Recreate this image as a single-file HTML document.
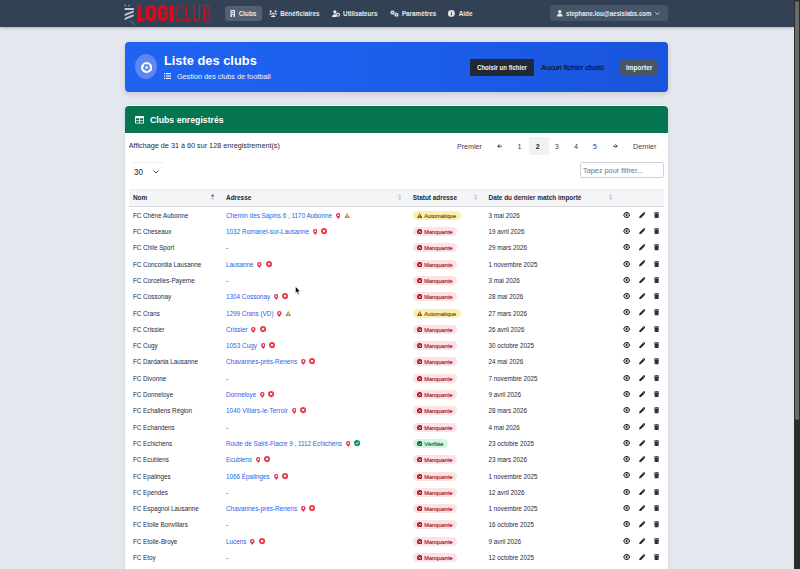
<!DOCTYPE html>
<html><head><meta charset="utf-8"><style>
html,body{margin:0;padding:0;width:800px;height:569px;overflow:hidden;background:#e4e7ee;font-family:"Liberation Sans", sans-serif;}
.b{position:absolute;display:block}
.t{position:absolute;white-space:nowrap;display:flex;align-items:center}
.t svg{flex:none}
.badge{position:absolute;display:flex;align-items:center;box-sizing:border-box;padding-left:4px;border-radius:4.4px;font-size:5.7px;white-space:nowrap;-webkit-text-stroke:0.15px currentColor}
</style></head><body>
<div class="b" style="left:0.00px;top:0.00px;width:794.00px;height:569.00px;background:#e4e7ee"></div>
<div class="b" style="left:0.00px;top:0.00px;width:794.00px;height:27.00px;background:#334155;box-shadow:0 1px 3px rgba(0,0,0,.25)"></div>
<svg class="b" style="left:122.00px;top:2.00px;" width="92.00" height="24.00" viewBox="122 2 92 24"><g fill="#c3cad5"><circle cx="125.2" cy="5.5" r="0.7"/><circle cx="128.9" cy="5.6" r="0.7"/><rect x="124.6" y="8" width="9.3" height="2"/><path d="M124.6 14 L133.6 10.6 L133.6 12.6 L124.6 16Z"/><path d="M124.6 18 L133.6 14.3 L133.6 16.3 L124.6 20Z"/></g><path d="M130.6 20.3 L134.8 25" stroke="#9aa3b0" stroke-width="0.5"/><g fill="#e1081c"><rect x="137.5" y="5" width="3.3" height="16.2"/><rect x="137.5" y="18.1" width="7" height="3.1"/><path fill-rule="evenodd" d="M150.9 5 A5.1 4.6 0 0 1 156 9.6 V16.6 A5.1 4.6 0 0 1 145.8 16.6 V9.6 A5.1 4.6 0 0 1 150.9 5Z M150.9 8.1 A1.8 1.8 0 0 0 149.1 9.9 V16.3 A1.8 1.8 0 0 0 152.7 16.3 V9.9 A1.8 1.8 0 0 0 150.9 8.1Z"/><rect x="169.8" y="5" width="3.7" height="16.2"/></g><path d="M166.4 10.6 V10.1 A3.5 3.5 0 0 0 159.4 10.1 V16.1 A3.5 3.5 0 0 0 166.4 16.1 V12.9 H163" fill="none" stroke="#e1081c" stroke-width="3.2"/><g fill="none" stroke="#d8101f" stroke-width="1.05"><path d="M182.3 8.8 V8.5 A3.15 3 0 0 0 176 8.5 V17.7 A3.15 3 0 0 0 182.3 17.7 V17.3"/><path d="M186.3 5 V20.7 H191"/><path d="M194 5 V17.6 A2.75 3.1 0 0 0 199.5 17.6 V5"/><path d="M204.5 20.7 V5.5 H207.1 Q209.6 5.5 209.6 9.1 Q209.6 12.8 207.1 12.8 H204.5 M207.1 12.8 Q209.9 12.8 209.9 16.8 Q209.9 20.7 207.1 20.7 H204.5"/></g></svg>
<div class="b" style="left:225.00px;top:6.00px;width:36.50px;height:14.80px;background:#536074;border-radius:3px"></div>
<svg class="b" style="left:230.00px;top:10.00px;" width="5.50" height="7.00" viewBox="0 0 5.5 7"><rect x="0.5" y="0" width="4.5" height="7" rx="0.6" fill="#e6e9ee"/><rect x="1.5" y="1.3" width="2.5" height="0.9" fill="#536074"/><rect x="1.5" y="3" width="2.5" height="0.9" fill="#536074"/><rect x="2" y="5" width="1.5" height="2" fill="#536074"/></svg>
<div class="t" style="left:238.80px;top:10.00px;font-size:6.30px;line-height:7.00px;font-weight:700;color:#e6e9ee;">Clubs</div>
<svg class="b" style="left:268.50px;top:9.60px;" width="8.60" height="7.40" viewBox="0 0 8.6 7.4"><g fill="#e6e9ee"><ellipse cx="1.7" cy="1.4" rx="1.05" ry="1.15"/><ellipse cx="6.6" cy="1.4" rx="1.05" ry="1.15"/><path d="M0.1 4.6 Q0.1 3.2 1.7 3.2 Q3.2 3.2 3.2 4.6Z"/><path d="M5.1 4.6 Q5.1 3.2 6.6 3.2 Q8.2 3.2 8.2 4.6Z"/><circle cx="4.15" cy="3.5" r="1.0"/><path d="M1.8 7.2 Q1.8 5.2 4.15 5.2 Q6.5 5.2 6.5 7.2Z"/></g></svg>
<div class="t" style="left:280.30px;top:10.00px;font-size:6.30px;line-height:7.00px;font-weight:700;color:#e6e9ee;">Bénéficiaires</div>
<svg class="b" style="left:331.50px;top:9.60px;" width="8.00" height="7.40" viewBox="0 0 8 7.4"><g fill="#e6e9ee"><circle cx="2.9" cy="2" r="1.65"/><path d="M0.1 7.1 Q0.1 4.3 2.9 4.3 Q4.2 4.3 4.9 4.9 L4.4 7.1Z"/></g><circle cx="6" cy="4.8" r="1.45" fill="none" stroke="#e6e9ee" stroke-width="1.1"/><circle cx="6" cy="4.8" r="0.45" fill="#334155"/></svg>
<div class="t" style="left:343.10px;top:10.00px;font-size:6.30px;line-height:7.00px;font-weight:700;color:#e6e9ee;">Utilisateurs</div>
<svg class="b" style="left:389.50px;top:9.60px;" width="9.00" height="7.40" viewBox="0 0 9 7.4"><g fill="#e6e9ee"><circle cx="2.5" cy="2.5" r="1.7"/><circle cx="6.4" cy="4.8" r="1.8"/></g><g fill="none" stroke="#e6e9ee" stroke-width="0.7" stroke-dasharray="0.8 0.7"><circle cx="2.5" cy="2.5" r="2.05"/><circle cx="6.4" cy="4.8" r="2.15"/></g><g fill="#334155"><circle cx="2.5" cy="2.5" r="0.6"/><circle cx="6.4" cy="4.8" r="0.65"/></g></svg>
<div class="t" style="left:401.90px;top:10.00px;font-size:6.30px;line-height:7.00px;font-weight:700;color:#e6e9ee;">Paramètres</div>
<svg class="b" style="left:448.40px;top:10.00px;" width="6.80" height="6.80" viewBox="0 0 6.8 6.8"><circle cx="3.4" cy="3.4" r="3.4" fill="#e6e9ee"/><rect x="2.95" y="2.9" width="0.95" height="2.5" fill="#334155"/><circle cx="3.42" cy="1.9" r="0.55" fill="#334155"/></svg>
<div class="t" style="left:458.80px;top:10.00px;font-size:6.30px;line-height:7.00px;font-weight:700;color:#e6e9ee;">Aide</div>
<div class="b" style="left:550.30px;top:5.30px;width:117.70px;height:15.70px;background:#475569;border-radius:3px"></div>
<svg class="b" style="left:557.00px;top:10.00px;" width="5.60" height="6.50" viewBox="0 0 5.6 6.5"><g fill="#e6e9ee"><circle cx="2.8" cy="1.7" r="1.7"/><path d="M0 6.5 Q0 3.6 2.8 3.6 Q5.6 3.6 5.6 6.5Z"/></g></svg>
<div class="t" style="left:566.00px;top:9.00px;font-size:7.60px;line-height:9.00px;font-weight:700;color:#e6e9ee;transform:scaleX(0.805);transform-origin:0 0;">stephane.lou@aesislabs.com</div>
<svg class="b" style="left:655.30px;top:12.20px;" width="4.80" height="3.00" viewBox="0 0 4.8 3"><path d="M0.4 0.4 L2.4 2.5 L4.4 0.4" fill="none" stroke="#e6e9ee" stroke-width="0.85"/></svg>
<div class="b" style="left:125.00px;top:42.00px;width:543.00px;height:50.00px;background:linear-gradient(90deg,#1f63f0 0%,#1c60ed 40%,#1a54dc 100%);border-radius:4px;box-shadow:0 2px 5px rgba(0,0,0,.13)"></div>
<div class="b" style="left:135.3px;top:54.2px;width:21.9px;height:25.2px;border-radius:50%;background:#5f86f2"></div>
<svg class="b" style="left:140.70px;top:61.50px;" width="11.30" height="11.00" viewBox="0 0 11.3 11"><ellipse cx="5.65" cy="5.5" rx="5.6" ry="5.45" fill="#fff"/><path d="M5.65 8.80 L2.56 6.55 L3.74 2.92 L7.56 2.92 L8.74 6.55Z" fill="#5f86f2" stroke="#5f86f2" stroke-width="1.1" stroke-linejoin="round"/><circle cx="5.65" cy="5.5" r="1.35" fill="#fff"/></svg>
<div class="t" style="left:163.90px;top:53.00px;font-size:12.87px;line-height:15.00px;font-weight:700;color:#ffffff;">Liste des clubs</div>
<svg class="b" style="left:164.00px;top:73.00px;" width="7.20" height="6.00" viewBox="0 0 7.2 6"><g fill="#fff"><rect x="0" y="0" width="1.2" height="1.1"/><rect x="2" y="0" width="5.2" height="1.1"/><rect x="0" y="2.4" width="1.2" height="1.1"/><rect x="2" y="2.4" width="5.2" height="1.1"/><rect x="0" y="4.8" width="1.2" height="1.1"/><rect x="2" y="4.8" width="5.2" height="1.1"/></g></svg>
<div class="t" style="left:176.90px;top:72.00px;font-size:7.30px;line-height:9.00px;font-weight:400;color:#f2f6ff;">Gestion des clubs de football</div>
<div class="b" style="left:470.00px;top:58.50px;width:63.80px;height:17.50px;background:#1f2937;border-radius:1px"></div>
<div class="t" style="left:476.90px;top:64.00px;font-size:6.80px;line-height:7.00px;font-weight:700;color:#f3f4f6;transform:scaleX(0.894);transform-origin:0 0;">Choisir un fichier</div>
<div class="t" style="left:541.30px;top:63.00px;font-size:7.25px;line-height:9.00px;font-weight:400;color:#050d24;-webkit-text-stroke:0.15px #050d24;">Aucun fichier choisi</div>
<div class="b" style="left:620.00px;top:59.80px;width:37.00px;height:15.00px;background:#4b5563;border-radius:2.5px"></div>
<div class="t" style="left:625.60px;top:64.00px;font-size:6.90px;line-height:7.00px;font-weight:700;color:#f3f4f6;transform:scaleX(0.940);transform-origin:0 0;">Importer</div>
<div class="b" style="left:125.00px;top:104.90px;width:543.00px;height:495.10px;background:#fff;border-radius:4px;box-shadow:0 1px 3px rgba(0,0,0,.12)"></div>
<div class="b" style="left:125.00px;top:105.70px;width:543.00px;height:27.00px;background:#057551;border-radius:4px 4px 0 0"></div>
<svg class="b" style="left:135.30px;top:116.00px;" width="9.20" height="7.60" viewBox="0 0 9.2 7.6"><rect x="0" y="0" width="9.2" height="7.6" rx="1.2" fill="#fff"/><g fill="#057551"><rect x="0.9" y="2.2" width="3.3" height="2" /><rect x="5" y="2.2" width="3.3" height="2"/><rect x="0.9" y="4.8" width="3.3" height="1.9"/><rect x="5" y="4.8" width="3.3" height="1.9"/></g></svg>
<div class="t" style="left:150.00px;top:115.00px;font-size:8.73px;line-height:10.00px;font-weight:700;color:#ffffff;">Clubs enregistrés</div>
<div class="t" style="left:128.80px;top:141.00px;font-size:7.24px;line-height:9.00px;font-weight:400;color:#1f2937;">Affichage de 31 à 60 sur 128 enregistrement(s)</div>
<div class="t" style="left:456.90px;top:143.00px;font-size:7.14px;line-height:8.00px;font-weight:400;color:#374151;">Premier</div>
<svg class="b" style="left:497.20px;top:144.00px;" width="5.30" height="4.40" viewBox="0 0 5.3 4.4"><path d="M5 2.2H0.8M2.6 0.4L0.8 2.2L2.6 4" fill="none" stroke="#374151" stroke-width="1"/></svg>
<div class="t" style="left:517.40px;top:143.00px;font-size:7.14px;line-height:8.00px;font-weight:400;color:#374151;">1</div>
<div class="b" style="left:528.50px;top:137.20px;width:20.50px;height:17.40px;background:#f1f2f4"></div>
<div class="t" style="left:535.70px;top:143.00px;font-size:7.14px;line-height:8.00px;font-weight:700;color:#111827;">2</div>
<div class="t" style="left:554.70px;top:143.00px;font-size:7.14px;line-height:8.00px;font-weight:400;color:#374151;">3</div>
<div class="t" style="left:573.90px;top:143.00px;font-size:7.14px;line-height:8.00px;font-weight:400;color:#374151;">4</div>
<div class="t" style="left:593.00px;top:143.00px;font-size:7.14px;line-height:8.00px;font-weight:400;color:#374151;">5</div>
<svg class="b" style="left:613.10px;top:144.00px;" width="5.30" height="4.40" viewBox="0 0 5.3 4.4"><path d="M0 2.2H4.2M2.4 0.4L4.2 2.2L2.4 4" fill="none" stroke="#374151" stroke-width="1"/></svg>
<div class="t" style="left:633.10px;top:143.00px;font-size:7.14px;line-height:8.00px;font-weight:400;color:#374151;">Dernier</div>
<div class="b" style="left:132.00px;top:162.00px;width:31.00px;height:23.00px;border-top:1px solid #eceef1"></div>
<div class="t" style="left:134.00px;top:168.00px;font-size:8.18px;line-height:9.00px;font-weight:400;color:#1f2937;">30</div>
<svg class="b" style="left:153.00px;top:170.00px;" width="6.00" height="3.60" viewBox="0 0 6 3.6"><path d="M0.6 0.6L3 3L5.4 0.6" fill="none" stroke="#2b3a52" stroke-width="0.95"/></svg>
<div class="b" style="left:580.00px;top:162.30px;width:83.50px;height:15.80px;border:1px solid #cfd3d9;border-radius:2px;box-sizing:border-box;background:#fff"></div>
<div class="t" style="left:583.10px;top:166.00px;font-size:7.29px;line-height:9.00px;font-weight:400;color:#6b7280;">Tapez pour filtrer...</div>
<div class="b" style="left:128.80px;top:188.50px;width:535.20px;height:18.70px;background:#f4f5f7;border-top:1px solid #eceef1;border-bottom:1px solid #d6d8dc;box-sizing:border-box"></div>
<div class="t" style="left:132.90px;top:194.00px;font-size:6.42px;line-height:7.00px;font-weight:700;color:#1f2937;">Nom</div>
<div class="t" style="left:226.00px;top:194.00px;font-size:6.42px;line-height:7.00px;font-weight:700;color:#1f2937;">Adresse</div>
<div class="t" style="left:412.80px;top:194.00px;font-size:6.42px;line-height:7.00px;font-weight:700;color:#1f2937;">Statut adresse</div>
<div class="t" style="left:488.50px;top:194.00px;font-size:6.42px;line-height:7.00px;font-weight:700;color:#1f2937;">Date du dernier match importé</div>
<svg class="b" style="left:211.20px;top:194.30px;" width="3.40" height="6.40" viewBox="0 0 3.4 6.4"><path d="M1.7 0 L3.4 2.6 L0 2.6Z" fill="#4b5563"/><path d="M1.7 6.4 L3.4 3.8 L0 3.8Z" fill="#c3c7cd"/></svg>
<svg class="b" style="left:398.20px;top:194.30px;" width="3.40" height="6.40" viewBox="0 0 3.4 6.4"><path d="M1.7 0 L3.4 2.6 L0 2.6Z" fill="#c3c7cd"/><path d="M1.7 6.4 L3.4 3.8 L0 3.8Z" fill="#c3c7cd"/></svg>
<svg class="b" style="left:474.20px;top:194.30px;" width="3.40" height="6.40" viewBox="0 0 3.4 6.4"><path d="M1.7 0 L3.4 2.6 L0 2.6Z" fill="#c3c7cd"/><path d="M1.7 6.4 L3.4 3.8 L0 3.8Z" fill="#c3c7cd"/></svg>
<svg class="b" style="left:608.50px;top:194.30px;" width="3.40" height="6.40" viewBox="0 0 3.4 6.4"><path d="M1.7 0 L3.4 2.6 L0 2.6Z" fill="#c3c7cd"/><path d="M1.7 6.4 L3.4 3.8 L0 3.8Z" fill="#c3c7cd"/></svg>
<div class="t" style="left:132.90px;top:212.00px;font-size:6.30px;line-height:7.00px;font-weight:400;color:#1f2937;">FC Chêne Aubonne</div>
<div class="t" style="left:226px;top:212px;font-size:6.38px;line-height:7px;color:#2563eb"><span style="letter-spacing:-0.017px">Chemin des Sapins 6 , 1170 Aubonne</span><svg width="4.6" height="6" viewBox="0 0 4.6 6" style="margin-left:3.8px"><path d="M2.3 6 C1 4.4 0 3.4 0 2.3 A2.3 2.3 0 0 1 4.6 2.3 C4.6 3.4 3.6 4.4 2.3 6Z" fill="#e5364f"/><circle cx="2.3" cy="2.2" r="0.85" fill="#fff"/></svg><svg width="6.4" height="5.8" viewBox="0 0 6 5.6" style="margin-left:3.5px"><path d="M3 0 L6 5.6 L0 5.6Z" fill="#c7780f"/><rect x="2.6" y="1.8" width="0.8" height="2" fill="#fff"/><rect x="2.6" y="4.3" width="0.8" height="0.7" fill="#fff"/></svg></div>
<div class="badge" style="left:412.8px;top:211.10px;width:48.3px;height:8.9px;background:#fcf0ae;color:#7c450c"><svg width="5.4" height="5" viewBox="0 0 5 4.6"><path d="M2.5 0L5 4.6H0Z" fill="#8a4a0c"/><rect x="2.15" y="1.5" width="0.7" height="1.7" fill="#fcf0ae"/><rect x="2.15" y="3.55" width="0.7" height="0.6" fill="#fcf0ae"/></svg><span style="margin-left:2px">Automatique</span></div>
<div class="t" style="left:488.50px;top:212.00px;font-size:6.30px;line-height:7.00px;font-weight:400;color:#1f2937;">3 mai 2026</div>
<svg class="b" style="left:622.90px;top:211.65px;" width="7.30" height="6.00" viewBox="0 0 7.3 6"><path d="M0.2 3 C1.2 0.6 2.4 0 3.65 0 C4.9 0 6.1 0.6 7.1 3 C6.1 5.4 4.9 6 3.65 6 C2.4 6 1.2 5.4 0.2 3Z" fill="#1f2937"/><ellipse cx="3.65" cy="3" rx="2.3" ry="1.85" fill="#fff"/><circle cx="3.65" cy="3" r="1.1" fill="#1f2937"/></svg>
<svg class="b" style="left:638.80px;top:211.55px;" width="6.40" height="6.40" viewBox="0 0 6.4 6.4"><path d="M0 6.4 L0.5 4.4 L4.6 0.3 Q5.1 -0.1 5.6 0.4 L6 0.8 Q6.5 1.3 6.1 1.8 L2 5.9Z" fill="#1f2937"/><path d="M3.9 1 L5.4 2.5" stroke="#fff" stroke-width="0.35"/></svg>
<svg class="b" style="left:654.10px;top:211.65px;" width="5.20" height="6.30" viewBox="0 0 5.2 6.3"><rect x="0" y="0.5" width="5.2" height="1" rx="0.3" fill="#1f2937"/><rect x="1.7" y="0" width="1.8" height="0.8" rx="0.3" fill="#1f2937"/><path d="M0.4 1.8H4.8L4.5 5.7Q4.45 6.3 3.9 6.3H1.3Q0.75 6.3 0.7 5.7Z" fill="#1f2937"/><g stroke="#6b7280" stroke-width="0.35"><path d="M1.75 2.6V5.5"/><path d="M3.45 2.6V5.5"/></g></svg>
<div class="t" style="left:132.90px;top:228.00px;font-size:6.30px;line-height:7.00px;font-weight:400;color:#1f2937;">FC Cheseaux</div>
<div class="t" style="left:226px;top:228px;font-size:6.38px;line-height:7px;color:#2563eb"><span style="letter-spacing:0.017px">1032 Romanel-sur-Lausanne</span><svg width="4.6" height="6" viewBox="0 0 4.6 6" style="margin-left:3.8px"><path d="M2.3 6 C1 4.4 0 3.4 0 2.3 A2.3 2.3 0 0 1 4.6 2.3 C4.6 3.4 3.6 4.4 2.3 6Z" fill="#e5364f"/><circle cx="2.3" cy="2.2" r="0.85" fill="#fff"/></svg><svg width="6.2" height="6.2" viewBox="0 0 6 6" style="margin-left:3.7px"><circle cx="3" cy="3" r="3" fill="#e3404d"/><path d="M1.9 1.9L4.1 4.1M4.1 1.9L1.9 4.1" stroke="#fff" stroke-width="0.9"/></svg></div>
<div class="badge" style="left:412.8px;top:227.10px;width:44.2px;height:8.9px;background:#fde2e3;color:#a3162a"><svg width="5.4" height="5.4" viewBox="0 0 5 5"><circle cx="2.5" cy="2.5" r="2.5" fill="#a3162a"/><path d="M1.6 1.6L3.4 3.4M3.4 1.6L1.6 3.4" stroke="#fde2e3" stroke-width="0.8"/></svg><span style="margin-left:2px">Manquante</span></div>
<div class="t" style="left:488.50px;top:228.00px;font-size:6.30px;line-height:7.00px;font-weight:400;color:#1f2937;">19 avril 2026</div>
<svg class="b" style="left:622.90px;top:227.95px;" width="7.30" height="6.00" viewBox="0 0 7.3 6"><path d="M0.2 3 C1.2 0.6 2.4 0 3.65 0 C4.9 0 6.1 0.6 7.1 3 C6.1 5.4 4.9 6 3.65 6 C2.4 6 1.2 5.4 0.2 3Z" fill="#1f2937"/><ellipse cx="3.65" cy="3" rx="2.3" ry="1.85" fill="#fff"/><circle cx="3.65" cy="3" r="1.1" fill="#1f2937"/></svg>
<svg class="b" style="left:638.80px;top:227.85px;" width="6.40" height="6.40" viewBox="0 0 6.4 6.4"><path d="M0 6.4 L0.5 4.4 L4.6 0.3 Q5.1 -0.1 5.6 0.4 L6 0.8 Q6.5 1.3 6.1 1.8 L2 5.9Z" fill="#1f2937"/><path d="M3.9 1 L5.4 2.5" stroke="#fff" stroke-width="0.35"/></svg>
<svg class="b" style="left:654.10px;top:227.95px;" width="5.20" height="6.30" viewBox="0 0 5.2 6.3"><rect x="0" y="0.5" width="5.2" height="1" rx="0.3" fill="#1f2937"/><rect x="1.7" y="0" width="1.8" height="0.8" rx="0.3" fill="#1f2937"/><path d="M0.4 1.8H4.8L4.5 5.7Q4.45 6.3 3.9 6.3H1.3Q0.75 6.3 0.7 5.7Z" fill="#1f2937"/><g stroke="#6b7280" stroke-width="0.35"><path d="M1.75 2.6V5.5"/><path d="M3.45 2.6V5.5"/></g></svg>
<div class="t" style="left:132.90px;top:244.00px;font-size:6.30px;line-height:7.00px;font-weight:400;color:#1f2937;">FC Chile Sport</div>
<div class="t" style="left:226.00px;top:244.00px;font-size:6.30px;line-height:7.00px;font-weight:400;color:#374151;">-</div>
<div class="badge" style="left:412.8px;top:243.10px;width:44.2px;height:8.9px;background:#fde2e3;color:#a3162a"><svg width="5.4" height="5.4" viewBox="0 0 5 5"><circle cx="2.5" cy="2.5" r="2.5" fill="#a3162a"/><path d="M1.6 1.6L3.4 3.4M3.4 1.6L1.6 3.4" stroke="#fde2e3" stroke-width="0.8"/></svg><span style="margin-left:2px">Manquante</span></div>
<div class="t" style="left:488.50px;top:244.00px;font-size:6.30px;line-height:7.00px;font-weight:400;color:#1f2937;">29 mars 2026</div>
<svg class="b" style="left:622.90px;top:244.25px;" width="7.30" height="6.00" viewBox="0 0 7.3 6"><path d="M0.2 3 C1.2 0.6 2.4 0 3.65 0 C4.9 0 6.1 0.6 7.1 3 C6.1 5.4 4.9 6 3.65 6 C2.4 6 1.2 5.4 0.2 3Z" fill="#1f2937"/><ellipse cx="3.65" cy="3" rx="2.3" ry="1.85" fill="#fff"/><circle cx="3.65" cy="3" r="1.1" fill="#1f2937"/></svg>
<svg class="b" style="left:638.80px;top:244.15px;" width="6.40" height="6.40" viewBox="0 0 6.4 6.4"><path d="M0 6.4 L0.5 4.4 L4.6 0.3 Q5.1 -0.1 5.6 0.4 L6 0.8 Q6.5 1.3 6.1 1.8 L2 5.9Z" fill="#1f2937"/><path d="M3.9 1 L5.4 2.5" stroke="#fff" stroke-width="0.35"/></svg>
<svg class="b" style="left:654.10px;top:244.25px;" width="5.20" height="6.30" viewBox="0 0 5.2 6.3"><rect x="0" y="0.5" width="5.2" height="1" rx="0.3" fill="#1f2937"/><rect x="1.7" y="0" width="1.8" height="0.8" rx="0.3" fill="#1f2937"/><path d="M0.4 1.8H4.8L4.5 5.7Q4.45 6.3 3.9 6.3H1.3Q0.75 6.3 0.7 5.7Z" fill="#1f2937"/><g stroke="#6b7280" stroke-width="0.35"><path d="M1.75 2.6V5.5"/><path d="M3.45 2.6V5.5"/></g></svg>
<div class="t" style="left:132.90px;top:261.00px;font-size:6.30px;line-height:7.00px;font-weight:400;color:#1f2937;">FC Concordia Lausanne</div>
<div class="t" style="left:226px;top:261px;font-size:6.38px;line-height:7px;color:#2563eb"><span style="letter-spacing:-0.064px">Lausanne</span><svg width="4.6" height="6" viewBox="0 0 4.6 6" style="margin-left:3.8px"><path d="M2.3 6 C1 4.4 0 3.4 0 2.3 A2.3 2.3 0 0 1 4.6 2.3 C4.6 3.4 3.6 4.4 2.3 6Z" fill="#e5364f"/><circle cx="2.3" cy="2.2" r="0.85" fill="#fff"/></svg><svg width="6.2" height="6.2" viewBox="0 0 6 6" style="margin-left:3.7px"><circle cx="3" cy="3" r="3" fill="#e3404d"/><path d="M1.9 1.9L4.1 4.1M4.1 1.9L1.9 4.1" stroke="#fff" stroke-width="0.9"/></svg></div>
<div class="badge" style="left:412.8px;top:260.10px;width:44.2px;height:8.9px;background:#fde2e3;color:#a3162a"><svg width="5.4" height="5.4" viewBox="0 0 5 5"><circle cx="2.5" cy="2.5" r="2.5" fill="#a3162a"/><path d="M1.6 1.6L3.4 3.4M3.4 1.6L1.6 3.4" stroke="#fde2e3" stroke-width="0.8"/></svg><span style="margin-left:2px">Manquante</span></div>
<div class="t" style="left:488.50px;top:261.00px;font-size:6.30px;line-height:7.00px;font-weight:400;color:#1f2937;">1 novembre 2025</div>
<svg class="b" style="left:622.90px;top:260.55px;" width="7.30" height="6.00" viewBox="0 0 7.3 6"><path d="M0.2 3 C1.2 0.6 2.4 0 3.65 0 C4.9 0 6.1 0.6 7.1 3 C6.1 5.4 4.9 6 3.65 6 C2.4 6 1.2 5.4 0.2 3Z" fill="#1f2937"/><ellipse cx="3.65" cy="3" rx="2.3" ry="1.85" fill="#fff"/><circle cx="3.65" cy="3" r="1.1" fill="#1f2937"/></svg>
<svg class="b" style="left:638.80px;top:260.45px;" width="6.40" height="6.40" viewBox="0 0 6.4 6.4"><path d="M0 6.4 L0.5 4.4 L4.6 0.3 Q5.1 -0.1 5.6 0.4 L6 0.8 Q6.5 1.3 6.1 1.8 L2 5.9Z" fill="#1f2937"/><path d="M3.9 1 L5.4 2.5" stroke="#fff" stroke-width="0.35"/></svg>
<svg class="b" style="left:654.10px;top:260.55px;" width="5.20" height="6.30" viewBox="0 0 5.2 6.3"><rect x="0" y="0.5" width="5.2" height="1" rx="0.3" fill="#1f2937"/><rect x="1.7" y="0" width="1.8" height="0.8" rx="0.3" fill="#1f2937"/><path d="M0.4 1.8H4.8L4.5 5.7Q4.45 6.3 3.9 6.3H1.3Q0.75 6.3 0.7 5.7Z" fill="#1f2937"/><g stroke="#6b7280" stroke-width="0.35"><path d="M1.75 2.6V5.5"/><path d="M3.45 2.6V5.5"/></g></svg>
<div class="t" style="left:132.90px;top:277.00px;font-size:6.30px;line-height:7.00px;font-weight:400;color:#1f2937;">FC Corcelles-Payerne</div>
<div class="t" style="left:226.00px;top:277.00px;font-size:6.30px;line-height:7.00px;font-weight:400;color:#374151;">-</div>
<div class="badge" style="left:412.8px;top:276.10px;width:44.2px;height:8.9px;background:#fde2e3;color:#a3162a"><svg width="5.4" height="5.4" viewBox="0 0 5 5"><circle cx="2.5" cy="2.5" r="2.5" fill="#a3162a"/><path d="M1.6 1.6L3.4 3.4M3.4 1.6L1.6 3.4" stroke="#fde2e3" stroke-width="0.8"/></svg><span style="margin-left:2px">Manquante</span></div>
<div class="t" style="left:488.50px;top:277.00px;font-size:6.30px;line-height:7.00px;font-weight:400;color:#1f2937;">3 mai 2026</div>
<svg class="b" style="left:622.90px;top:276.85px;" width="7.30" height="6.00" viewBox="0 0 7.3 6"><path d="M0.2 3 C1.2 0.6 2.4 0 3.65 0 C4.9 0 6.1 0.6 7.1 3 C6.1 5.4 4.9 6 3.65 6 C2.4 6 1.2 5.4 0.2 3Z" fill="#1f2937"/><ellipse cx="3.65" cy="3" rx="2.3" ry="1.85" fill="#fff"/><circle cx="3.65" cy="3" r="1.1" fill="#1f2937"/></svg>
<svg class="b" style="left:638.80px;top:276.75px;" width="6.40" height="6.40" viewBox="0 0 6.4 6.4"><path d="M0 6.4 L0.5 4.4 L4.6 0.3 Q5.1 -0.1 5.6 0.4 L6 0.8 Q6.5 1.3 6.1 1.8 L2 5.9Z" fill="#1f2937"/><path d="M3.9 1 L5.4 2.5" stroke="#fff" stroke-width="0.35"/></svg>
<svg class="b" style="left:654.10px;top:276.85px;" width="5.20" height="6.30" viewBox="0 0 5.2 6.3"><rect x="0" y="0.5" width="5.2" height="1" rx="0.3" fill="#1f2937"/><rect x="1.7" y="0" width="1.8" height="0.8" rx="0.3" fill="#1f2937"/><path d="M0.4 1.8H4.8L4.5 5.7Q4.45 6.3 3.9 6.3H1.3Q0.75 6.3 0.7 5.7Z" fill="#1f2937"/><g stroke="#6b7280" stroke-width="0.35"><path d="M1.75 2.6V5.5"/><path d="M3.45 2.6V5.5"/></g></svg>
<div class="t" style="left:132.90px;top:293.00px;font-size:6.30px;line-height:7.00px;font-weight:400;color:#1f2937;">FC Cossonay</div>
<div class="t" style="left:226px;top:293px;font-size:6.38px;line-height:7px;color:#2563eb"><span style="letter-spacing:-0.016px">1304 Cossonay</span><svg width="4.6" height="6" viewBox="0 0 4.6 6" style="margin-left:3.8px"><path d="M2.3 6 C1 4.4 0 3.4 0 2.3 A2.3 2.3 0 0 1 4.6 2.3 C4.6 3.4 3.6 4.4 2.3 6Z" fill="#e5364f"/><circle cx="2.3" cy="2.2" r="0.85" fill="#fff"/></svg><svg width="6.2" height="6.2" viewBox="0 0 6 6" style="margin-left:3.7px"><circle cx="3" cy="3" r="3" fill="#e3404d"/><path d="M1.9 1.9L4.1 4.1M4.1 1.9L1.9 4.1" stroke="#fff" stroke-width="0.9"/></svg></div>
<div class="badge" style="left:412.8px;top:292.10px;width:44.2px;height:8.9px;background:#fde2e3;color:#a3162a"><svg width="5.4" height="5.4" viewBox="0 0 5 5"><circle cx="2.5" cy="2.5" r="2.5" fill="#a3162a"/><path d="M1.6 1.6L3.4 3.4M3.4 1.6L1.6 3.4" stroke="#fde2e3" stroke-width="0.8"/></svg><span style="margin-left:2px">Manquante</span></div>
<div class="t" style="left:488.50px;top:293.00px;font-size:6.30px;line-height:7.00px;font-weight:400;color:#1f2937;">28 mai 2026</div>
<svg class="b" style="left:622.90px;top:293.15px;" width="7.30" height="6.00" viewBox="0 0 7.3 6"><path d="M0.2 3 C1.2 0.6 2.4 0 3.65 0 C4.9 0 6.1 0.6 7.1 3 C6.1 5.4 4.9 6 3.65 6 C2.4 6 1.2 5.4 0.2 3Z" fill="#1f2937"/><ellipse cx="3.65" cy="3" rx="2.3" ry="1.85" fill="#fff"/><circle cx="3.65" cy="3" r="1.1" fill="#1f2937"/></svg>
<svg class="b" style="left:638.80px;top:293.05px;" width="6.40" height="6.40" viewBox="0 0 6.4 6.4"><path d="M0 6.4 L0.5 4.4 L4.6 0.3 Q5.1 -0.1 5.6 0.4 L6 0.8 Q6.5 1.3 6.1 1.8 L2 5.9Z" fill="#1f2937"/><path d="M3.9 1 L5.4 2.5" stroke="#fff" stroke-width="0.35"/></svg>
<svg class="b" style="left:654.10px;top:293.15px;" width="5.20" height="6.30" viewBox="0 0 5.2 6.3"><rect x="0" y="0.5" width="5.2" height="1" rx="0.3" fill="#1f2937"/><rect x="1.7" y="0" width="1.8" height="0.8" rx="0.3" fill="#1f2937"/><path d="M0.4 1.8H4.8L4.5 5.7Q4.45 6.3 3.9 6.3H1.3Q0.75 6.3 0.7 5.7Z" fill="#1f2937"/><g stroke="#6b7280" stroke-width="0.35"><path d="M1.75 2.6V5.5"/><path d="M3.45 2.6V5.5"/></g></svg>
<div class="t" style="left:132.90px;top:310.00px;font-size:6.30px;line-height:7.00px;font-weight:400;color:#1f2937;">FC Crans</div>
<div class="t" style="left:226px;top:310px;font-size:6.38px;line-height:7px;color:#2563eb"><span style="letter-spacing:-0.023px">1299 Crans (VD)</span><svg width="4.6" height="6" viewBox="0 0 4.6 6" style="margin-left:3.8px"><path d="M2.3 6 C1 4.4 0 3.4 0 2.3 A2.3 2.3 0 0 1 4.6 2.3 C4.6 3.4 3.6 4.4 2.3 6Z" fill="#e5364f"/><circle cx="2.3" cy="2.2" r="0.85" fill="#fff"/></svg><svg width="6.4" height="5.8" viewBox="0 0 6 5.6" style="margin-left:3.5px"><path d="M3 0 L6 5.6 L0 5.6Z" fill="#c7780f"/><rect x="2.6" y="1.8" width="0.8" height="2" fill="#fff"/><rect x="2.6" y="4.3" width="0.8" height="0.7" fill="#fff"/></svg></div>
<div class="badge" style="left:412.8px;top:309.10px;width:48.3px;height:8.9px;background:#fcf0ae;color:#7c450c"><svg width="5.4" height="5" viewBox="0 0 5 4.6"><path d="M2.5 0L5 4.6H0Z" fill="#8a4a0c"/><rect x="2.15" y="1.5" width="0.7" height="1.7" fill="#fcf0ae"/><rect x="2.15" y="3.55" width="0.7" height="0.6" fill="#fcf0ae"/></svg><span style="margin-left:2px">Automatique</span></div>
<div class="t" style="left:488.50px;top:310.00px;font-size:6.30px;line-height:7.00px;font-weight:400;color:#1f2937;">27 mars 2026</div>
<svg class="b" style="left:622.90px;top:309.45px;" width="7.30" height="6.00" viewBox="0 0 7.3 6"><path d="M0.2 3 C1.2 0.6 2.4 0 3.65 0 C4.9 0 6.1 0.6 7.1 3 C6.1 5.4 4.9 6 3.65 6 C2.4 6 1.2 5.4 0.2 3Z" fill="#1f2937"/><ellipse cx="3.65" cy="3" rx="2.3" ry="1.85" fill="#fff"/><circle cx="3.65" cy="3" r="1.1" fill="#1f2937"/></svg>
<svg class="b" style="left:638.80px;top:309.35px;" width="6.40" height="6.40" viewBox="0 0 6.4 6.4"><path d="M0 6.4 L0.5 4.4 L4.6 0.3 Q5.1 -0.1 5.6 0.4 L6 0.8 Q6.5 1.3 6.1 1.8 L2 5.9Z" fill="#1f2937"/><path d="M3.9 1 L5.4 2.5" stroke="#fff" stroke-width="0.35"/></svg>
<svg class="b" style="left:654.10px;top:309.45px;" width="5.20" height="6.30" viewBox="0 0 5.2 6.3"><rect x="0" y="0.5" width="5.2" height="1" rx="0.3" fill="#1f2937"/><rect x="1.7" y="0" width="1.8" height="0.8" rx="0.3" fill="#1f2937"/><path d="M0.4 1.8H4.8L4.5 5.7Q4.45 6.3 3.9 6.3H1.3Q0.75 6.3 0.7 5.7Z" fill="#1f2937"/><g stroke="#6b7280" stroke-width="0.35"><path d="M1.75 2.6V5.5"/><path d="M3.45 2.6V5.5"/></g></svg>
<div class="t" style="left:132.90px;top:326.00px;font-size:6.30px;line-height:7.00px;font-weight:400;color:#1f2937;">FC Crissier</div>
<div class="t" style="left:226px;top:326px;font-size:6.38px;line-height:7px;color:#2563eb"><span style="letter-spacing:0.005px">Crissier</span><svg width="4.6" height="6" viewBox="0 0 4.6 6" style="margin-left:3.8px"><path d="M2.3 6 C1 4.4 0 3.4 0 2.3 A2.3 2.3 0 0 1 4.6 2.3 C4.6 3.4 3.6 4.4 2.3 6Z" fill="#e5364f"/><circle cx="2.3" cy="2.2" r="0.85" fill="#fff"/></svg><svg width="6.2" height="6.2" viewBox="0 0 6 6" style="margin-left:3.7px"><circle cx="3" cy="3" r="3" fill="#e3404d"/><path d="M1.9 1.9L4.1 4.1M4.1 1.9L1.9 4.1" stroke="#fff" stroke-width="0.9"/></svg></div>
<div class="badge" style="left:412.8px;top:325.10px;width:44.2px;height:8.9px;background:#fde2e3;color:#a3162a"><svg width="5.4" height="5.4" viewBox="0 0 5 5"><circle cx="2.5" cy="2.5" r="2.5" fill="#a3162a"/><path d="M1.6 1.6L3.4 3.4M3.4 1.6L1.6 3.4" stroke="#fde2e3" stroke-width="0.8"/></svg><span style="margin-left:2px">Manquante</span></div>
<div class="t" style="left:488.50px;top:326.00px;font-size:6.30px;line-height:7.00px;font-weight:400;color:#1f2937;">26 avril 2026</div>
<svg class="b" style="left:622.90px;top:325.75px;" width="7.30" height="6.00" viewBox="0 0 7.3 6"><path d="M0.2 3 C1.2 0.6 2.4 0 3.65 0 C4.9 0 6.1 0.6 7.1 3 C6.1 5.4 4.9 6 3.65 6 C2.4 6 1.2 5.4 0.2 3Z" fill="#1f2937"/><ellipse cx="3.65" cy="3" rx="2.3" ry="1.85" fill="#fff"/><circle cx="3.65" cy="3" r="1.1" fill="#1f2937"/></svg>
<svg class="b" style="left:638.80px;top:325.65px;" width="6.40" height="6.40" viewBox="0 0 6.4 6.4"><path d="M0 6.4 L0.5 4.4 L4.6 0.3 Q5.1 -0.1 5.6 0.4 L6 0.8 Q6.5 1.3 6.1 1.8 L2 5.9Z" fill="#1f2937"/><path d="M3.9 1 L5.4 2.5" stroke="#fff" stroke-width="0.35"/></svg>
<svg class="b" style="left:654.10px;top:325.75px;" width="5.20" height="6.30" viewBox="0 0 5.2 6.3"><rect x="0" y="0.5" width="5.2" height="1" rx="0.3" fill="#1f2937"/><rect x="1.7" y="0" width="1.8" height="0.8" rx="0.3" fill="#1f2937"/><path d="M0.4 1.8H4.8L4.5 5.7Q4.45 6.3 3.9 6.3H1.3Q0.75 6.3 0.7 5.7Z" fill="#1f2937"/><g stroke="#6b7280" stroke-width="0.35"><path d="M1.75 2.6V5.5"/><path d="M3.45 2.6V5.5"/></g></svg>
<div class="t" style="left:132.90px;top:342.00px;font-size:6.30px;line-height:7.00px;font-weight:400;color:#1f2937;">FC Cugy</div>
<div class="t" style="left:226px;top:342px;font-size:6.38px;line-height:7px;color:#2563eb"><span style="letter-spacing:0.017px">1053 Cugy</span><svg width="4.6" height="6" viewBox="0 0 4.6 6" style="margin-left:3.8px"><path d="M2.3 6 C1 4.4 0 3.4 0 2.3 A2.3 2.3 0 0 1 4.6 2.3 C4.6 3.4 3.6 4.4 2.3 6Z" fill="#e5364f"/><circle cx="2.3" cy="2.2" r="0.85" fill="#fff"/></svg><svg width="6.2" height="6.2" viewBox="0 0 6 6" style="margin-left:3.7px"><circle cx="3" cy="3" r="3" fill="#e3404d"/><path d="M1.9 1.9L4.1 4.1M4.1 1.9L1.9 4.1" stroke="#fff" stroke-width="0.9"/></svg></div>
<div class="badge" style="left:412.8px;top:341.10px;width:44.2px;height:8.9px;background:#fde2e3;color:#a3162a"><svg width="5.4" height="5.4" viewBox="0 0 5 5"><circle cx="2.5" cy="2.5" r="2.5" fill="#a3162a"/><path d="M1.6 1.6L3.4 3.4M3.4 1.6L1.6 3.4" stroke="#fde2e3" stroke-width="0.8"/></svg><span style="margin-left:2px">Manquante</span></div>
<div class="t" style="left:488.50px;top:342.00px;font-size:6.30px;line-height:7.00px;font-weight:400;color:#1f2937;">30 octobre 2025</div>
<svg class="b" style="left:622.90px;top:342.05px;" width="7.30" height="6.00" viewBox="0 0 7.3 6"><path d="M0.2 3 C1.2 0.6 2.4 0 3.65 0 C4.9 0 6.1 0.6 7.1 3 C6.1 5.4 4.9 6 3.65 6 C2.4 6 1.2 5.4 0.2 3Z" fill="#1f2937"/><ellipse cx="3.65" cy="3" rx="2.3" ry="1.85" fill="#fff"/><circle cx="3.65" cy="3" r="1.1" fill="#1f2937"/></svg>
<svg class="b" style="left:638.80px;top:341.95px;" width="6.40" height="6.40" viewBox="0 0 6.4 6.4"><path d="M0 6.4 L0.5 4.4 L4.6 0.3 Q5.1 -0.1 5.6 0.4 L6 0.8 Q6.5 1.3 6.1 1.8 L2 5.9Z" fill="#1f2937"/><path d="M3.9 1 L5.4 2.5" stroke="#fff" stroke-width="0.35"/></svg>
<svg class="b" style="left:654.10px;top:342.05px;" width="5.20" height="6.30" viewBox="0 0 5.2 6.3"><rect x="0" y="0.5" width="5.2" height="1" rx="0.3" fill="#1f2937"/><rect x="1.7" y="0" width="1.8" height="0.8" rx="0.3" fill="#1f2937"/><path d="M0.4 1.8H4.8L4.5 5.7Q4.45 6.3 3.9 6.3H1.3Q0.75 6.3 0.7 5.7Z" fill="#1f2937"/><g stroke="#6b7280" stroke-width="0.35"><path d="M1.75 2.6V5.5"/><path d="M3.45 2.6V5.5"/></g></svg>
<div class="t" style="left:132.90px;top:358.00px;font-size:6.30px;line-height:7.00px;font-weight:400;color:#1f2937;">FC Dardania Lausanne</div>
<div class="t" style="left:226px;top:358px;font-size:6.38px;line-height:7px;color:#2563eb"><span style="letter-spacing:0.011px">Chavannes-près-Renens</span><svg width="4.6" height="6" viewBox="0 0 4.6 6" style="margin-left:3.8px"><path d="M2.3 6 C1 4.4 0 3.4 0 2.3 A2.3 2.3 0 0 1 4.6 2.3 C4.6 3.4 3.6 4.4 2.3 6Z" fill="#e5364f"/><circle cx="2.3" cy="2.2" r="0.85" fill="#fff"/></svg><svg width="6.2" height="6.2" viewBox="0 0 6 6" style="margin-left:3.7px"><circle cx="3" cy="3" r="3" fill="#e3404d"/><path d="M1.9 1.9L4.1 4.1M4.1 1.9L1.9 4.1" stroke="#fff" stroke-width="0.9"/></svg></div>
<div class="badge" style="left:412.8px;top:357.10px;width:44.2px;height:8.9px;background:#fde2e3;color:#a3162a"><svg width="5.4" height="5.4" viewBox="0 0 5 5"><circle cx="2.5" cy="2.5" r="2.5" fill="#a3162a"/><path d="M1.6 1.6L3.4 3.4M3.4 1.6L1.6 3.4" stroke="#fde2e3" stroke-width="0.8"/></svg><span style="margin-left:2px">Manquante</span></div>
<div class="t" style="left:488.50px;top:358.00px;font-size:6.30px;line-height:7.00px;font-weight:400;color:#1f2937;">24 mai 2026</div>
<svg class="b" style="left:622.90px;top:358.35px;" width="7.30" height="6.00" viewBox="0 0 7.3 6"><path d="M0.2 3 C1.2 0.6 2.4 0 3.65 0 C4.9 0 6.1 0.6 7.1 3 C6.1 5.4 4.9 6 3.65 6 C2.4 6 1.2 5.4 0.2 3Z" fill="#1f2937"/><ellipse cx="3.65" cy="3" rx="2.3" ry="1.85" fill="#fff"/><circle cx="3.65" cy="3" r="1.1" fill="#1f2937"/></svg>
<svg class="b" style="left:638.80px;top:358.25px;" width="6.40" height="6.40" viewBox="0 0 6.4 6.4"><path d="M0 6.4 L0.5 4.4 L4.6 0.3 Q5.1 -0.1 5.6 0.4 L6 0.8 Q6.5 1.3 6.1 1.8 L2 5.9Z" fill="#1f2937"/><path d="M3.9 1 L5.4 2.5" stroke="#fff" stroke-width="0.35"/></svg>
<svg class="b" style="left:654.10px;top:358.35px;" width="5.20" height="6.30" viewBox="0 0 5.2 6.3"><rect x="0" y="0.5" width="5.2" height="1" rx="0.3" fill="#1f2937"/><rect x="1.7" y="0" width="1.8" height="0.8" rx="0.3" fill="#1f2937"/><path d="M0.4 1.8H4.8L4.5 5.7Q4.45 6.3 3.9 6.3H1.3Q0.75 6.3 0.7 5.7Z" fill="#1f2937"/><g stroke="#6b7280" stroke-width="0.35"><path d="M1.75 2.6V5.5"/><path d="M3.45 2.6V5.5"/></g></svg>
<div class="t" style="left:132.90px;top:375.00px;font-size:6.30px;line-height:7.00px;font-weight:400;color:#1f2937;">FC Divonne</div>
<div class="t" style="left:226.00px;top:375.00px;font-size:6.30px;line-height:7.00px;font-weight:400;color:#374151;">-</div>
<div class="badge" style="left:412.8px;top:374.10px;width:44.2px;height:8.9px;background:#fde2e3;color:#a3162a"><svg width="5.4" height="5.4" viewBox="0 0 5 5"><circle cx="2.5" cy="2.5" r="2.5" fill="#a3162a"/><path d="M1.6 1.6L3.4 3.4M3.4 1.6L1.6 3.4" stroke="#fde2e3" stroke-width="0.8"/></svg><span style="margin-left:2px">Manquante</span></div>
<div class="t" style="left:488.50px;top:375.00px;font-size:6.30px;line-height:7.00px;font-weight:400;color:#1f2937;">7 novembre 2025</div>
<svg class="b" style="left:622.90px;top:374.65px;" width="7.30" height="6.00" viewBox="0 0 7.3 6"><path d="M0.2 3 C1.2 0.6 2.4 0 3.65 0 C4.9 0 6.1 0.6 7.1 3 C6.1 5.4 4.9 6 3.65 6 C2.4 6 1.2 5.4 0.2 3Z" fill="#1f2937"/><ellipse cx="3.65" cy="3" rx="2.3" ry="1.85" fill="#fff"/><circle cx="3.65" cy="3" r="1.1" fill="#1f2937"/></svg>
<svg class="b" style="left:638.80px;top:374.55px;" width="6.40" height="6.40" viewBox="0 0 6.4 6.4"><path d="M0 6.4 L0.5 4.4 L4.6 0.3 Q5.1 -0.1 5.6 0.4 L6 0.8 Q6.5 1.3 6.1 1.8 L2 5.9Z" fill="#1f2937"/><path d="M3.9 1 L5.4 2.5" stroke="#fff" stroke-width="0.35"/></svg>
<svg class="b" style="left:654.10px;top:374.65px;" width="5.20" height="6.30" viewBox="0 0 5.2 6.3"><rect x="0" y="0.5" width="5.2" height="1" rx="0.3" fill="#1f2937"/><rect x="1.7" y="0" width="1.8" height="0.8" rx="0.3" fill="#1f2937"/><path d="M0.4 1.8H4.8L4.5 5.7Q4.45 6.3 3.9 6.3H1.3Q0.75 6.3 0.7 5.7Z" fill="#1f2937"/><g stroke="#6b7280" stroke-width="0.35"><path d="M1.75 2.6V5.5"/><path d="M3.45 2.6V5.5"/></g></svg>
<div class="t" style="left:132.90px;top:391.00px;font-size:6.30px;line-height:7.00px;font-weight:400;color:#1f2937;">FC Donneloye</div>
<div class="t" style="left:226px;top:391px;font-size:6.38px;line-height:7px;color:#2563eb"><span style="letter-spacing:-0.020px">Donneloye</span><svg width="4.6" height="6" viewBox="0 0 4.6 6" style="margin-left:3.8px"><path d="M2.3 6 C1 4.4 0 3.4 0 2.3 A2.3 2.3 0 0 1 4.6 2.3 C4.6 3.4 3.6 4.4 2.3 6Z" fill="#e5364f"/><circle cx="2.3" cy="2.2" r="0.85" fill="#fff"/></svg><svg width="6.2" height="6.2" viewBox="0 0 6 6" style="margin-left:3.7px"><circle cx="3" cy="3" r="3" fill="#e3404d"/><path d="M1.9 1.9L4.1 4.1M4.1 1.9L1.9 4.1" stroke="#fff" stroke-width="0.9"/></svg></div>
<div class="badge" style="left:412.8px;top:390.10px;width:44.2px;height:8.9px;background:#fde2e3;color:#a3162a"><svg width="5.4" height="5.4" viewBox="0 0 5 5"><circle cx="2.5" cy="2.5" r="2.5" fill="#a3162a"/><path d="M1.6 1.6L3.4 3.4M3.4 1.6L1.6 3.4" stroke="#fde2e3" stroke-width="0.8"/></svg><span style="margin-left:2px">Manquante</span></div>
<div class="t" style="left:488.50px;top:391.00px;font-size:6.30px;line-height:7.00px;font-weight:400;color:#1f2937;">9 avril 2026</div>
<svg class="b" style="left:622.90px;top:390.95px;" width="7.30" height="6.00" viewBox="0 0 7.3 6"><path d="M0.2 3 C1.2 0.6 2.4 0 3.65 0 C4.9 0 6.1 0.6 7.1 3 C6.1 5.4 4.9 6 3.65 6 C2.4 6 1.2 5.4 0.2 3Z" fill="#1f2937"/><ellipse cx="3.65" cy="3" rx="2.3" ry="1.85" fill="#fff"/><circle cx="3.65" cy="3" r="1.1" fill="#1f2937"/></svg>
<svg class="b" style="left:638.80px;top:390.85px;" width="6.40" height="6.40" viewBox="0 0 6.4 6.4"><path d="M0 6.4 L0.5 4.4 L4.6 0.3 Q5.1 -0.1 5.6 0.4 L6 0.8 Q6.5 1.3 6.1 1.8 L2 5.9Z" fill="#1f2937"/><path d="M3.9 1 L5.4 2.5" stroke="#fff" stroke-width="0.35"/></svg>
<svg class="b" style="left:654.10px;top:390.95px;" width="5.20" height="6.30" viewBox="0 0 5.2 6.3"><rect x="0" y="0.5" width="5.2" height="1" rx="0.3" fill="#1f2937"/><rect x="1.7" y="0" width="1.8" height="0.8" rx="0.3" fill="#1f2937"/><path d="M0.4 1.8H4.8L4.5 5.7Q4.45 6.3 3.9 6.3H1.3Q0.75 6.3 0.7 5.7Z" fill="#1f2937"/><g stroke="#6b7280" stroke-width="0.35"><path d="M1.75 2.6V5.5"/><path d="M3.45 2.6V5.5"/></g></svg>
<div class="t" style="left:132.90px;top:407.00px;font-size:6.30px;line-height:7.00px;font-weight:400;color:#1f2937;">FC Echallens Région</div>
<div class="t" style="left:226px;top:407px;font-size:6.38px;line-height:7px;color:#2563eb"><span style="letter-spacing:0.067px">1040 Villars-le-Terroir</span><svg width="4.6" height="6" viewBox="0 0 4.6 6" style="margin-left:3.8px"><path d="M2.3 6 C1 4.4 0 3.4 0 2.3 A2.3 2.3 0 0 1 4.6 2.3 C4.6 3.4 3.6 4.4 2.3 6Z" fill="#e5364f"/><circle cx="2.3" cy="2.2" r="0.85" fill="#fff"/></svg><svg width="6.2" height="6.2" viewBox="0 0 6 6" style="margin-left:3.7px"><circle cx="3" cy="3" r="3" fill="#e3404d"/><path d="M1.9 1.9L4.1 4.1M4.1 1.9L1.9 4.1" stroke="#fff" stroke-width="0.9"/></svg></div>
<div class="badge" style="left:412.8px;top:406.10px;width:44.2px;height:8.9px;background:#fde2e3;color:#a3162a"><svg width="5.4" height="5.4" viewBox="0 0 5 5"><circle cx="2.5" cy="2.5" r="2.5" fill="#a3162a"/><path d="M1.6 1.6L3.4 3.4M3.4 1.6L1.6 3.4" stroke="#fde2e3" stroke-width="0.8"/></svg><span style="margin-left:2px">Manquante</span></div>
<div class="t" style="left:488.50px;top:407.00px;font-size:6.30px;line-height:7.00px;font-weight:400;color:#1f2937;">28 mars 2026</div>
<svg class="b" style="left:622.90px;top:407.25px;" width="7.30" height="6.00" viewBox="0 0 7.3 6"><path d="M0.2 3 C1.2 0.6 2.4 0 3.65 0 C4.9 0 6.1 0.6 7.1 3 C6.1 5.4 4.9 6 3.65 6 C2.4 6 1.2 5.4 0.2 3Z" fill="#1f2937"/><ellipse cx="3.65" cy="3" rx="2.3" ry="1.85" fill="#fff"/><circle cx="3.65" cy="3" r="1.1" fill="#1f2937"/></svg>
<svg class="b" style="left:638.80px;top:407.15px;" width="6.40" height="6.40" viewBox="0 0 6.4 6.4"><path d="M0 6.4 L0.5 4.4 L4.6 0.3 Q5.1 -0.1 5.6 0.4 L6 0.8 Q6.5 1.3 6.1 1.8 L2 5.9Z" fill="#1f2937"/><path d="M3.9 1 L5.4 2.5" stroke="#fff" stroke-width="0.35"/></svg>
<svg class="b" style="left:654.10px;top:407.25px;" width="5.20" height="6.30" viewBox="0 0 5.2 6.3"><rect x="0" y="0.5" width="5.2" height="1" rx="0.3" fill="#1f2937"/><rect x="1.7" y="0" width="1.8" height="0.8" rx="0.3" fill="#1f2937"/><path d="M0.4 1.8H4.8L4.5 5.7Q4.45 6.3 3.9 6.3H1.3Q0.75 6.3 0.7 5.7Z" fill="#1f2937"/><g stroke="#6b7280" stroke-width="0.35"><path d="M1.75 2.6V5.5"/><path d="M3.45 2.6V5.5"/></g></svg>
<div class="t" style="left:132.90px;top:424.00px;font-size:6.30px;line-height:7.00px;font-weight:400;color:#1f2937;">FC Echandens</div>
<div class="t" style="left:226.00px;top:424.00px;font-size:6.30px;line-height:7.00px;font-weight:400;color:#374151;">-</div>
<div class="badge" style="left:412.8px;top:423.10px;width:44.2px;height:8.9px;background:#fde2e3;color:#a3162a"><svg width="5.4" height="5.4" viewBox="0 0 5 5"><circle cx="2.5" cy="2.5" r="2.5" fill="#a3162a"/><path d="M1.6 1.6L3.4 3.4M3.4 1.6L1.6 3.4" stroke="#fde2e3" stroke-width="0.8"/></svg><span style="margin-left:2px">Manquante</span></div>
<div class="t" style="left:488.50px;top:424.00px;font-size:6.30px;line-height:7.00px;font-weight:400;color:#1f2937;">4 mai 2026</div>
<svg class="b" style="left:622.90px;top:423.55px;" width="7.30" height="6.00" viewBox="0 0 7.3 6"><path d="M0.2 3 C1.2 0.6 2.4 0 3.65 0 C4.9 0 6.1 0.6 7.1 3 C6.1 5.4 4.9 6 3.65 6 C2.4 6 1.2 5.4 0.2 3Z" fill="#1f2937"/><ellipse cx="3.65" cy="3" rx="2.3" ry="1.85" fill="#fff"/><circle cx="3.65" cy="3" r="1.1" fill="#1f2937"/></svg>
<svg class="b" style="left:638.80px;top:423.45px;" width="6.40" height="6.40" viewBox="0 0 6.4 6.4"><path d="M0 6.4 L0.5 4.4 L4.6 0.3 Q5.1 -0.1 5.6 0.4 L6 0.8 Q6.5 1.3 6.1 1.8 L2 5.9Z" fill="#1f2937"/><path d="M3.9 1 L5.4 2.5" stroke="#fff" stroke-width="0.35"/></svg>
<svg class="b" style="left:654.10px;top:423.55px;" width="5.20" height="6.30" viewBox="0 0 5.2 6.3"><rect x="0" y="0.5" width="5.2" height="1" rx="0.3" fill="#1f2937"/><rect x="1.7" y="0" width="1.8" height="0.8" rx="0.3" fill="#1f2937"/><path d="M0.4 1.8H4.8L4.5 5.7Q4.45 6.3 3.9 6.3H1.3Q0.75 6.3 0.7 5.7Z" fill="#1f2937"/><g stroke="#6b7280" stroke-width="0.35"><path d="M1.75 2.6V5.5"/><path d="M3.45 2.6V5.5"/></g></svg>
<div class="t" style="left:132.90px;top:440.00px;font-size:6.30px;line-height:7.00px;font-weight:400;color:#1f2937;">FC Echichens</div>
<div class="t" style="left:226px;top:440px;font-size:6.38px;line-height:7px;color:#2563eb"><span style="letter-spacing:-0.027px">Route de Saint-Fiacre 9 , 1112 Echichens</span><svg width="4.6" height="6" viewBox="0 0 4.6 6" style="margin-left:3.8px"><path d="M2.3 6 C1 4.4 0 3.4 0 2.3 A2.3 2.3 0 0 1 4.6 2.3 C4.6 3.4 3.6 4.4 2.3 6Z" fill="#e5364f"/><circle cx="2.3" cy="2.2" r="0.85" fill="#fff"/></svg><svg width="6.2" height="6.2" viewBox="0 0 6 6" style="margin-left:3.7px"><circle cx="3" cy="3" r="3" fill="#15945a"/><path d="M1.6 3.1L2.6 4.1L4.5 2" fill="none" stroke="#fff" stroke-width="0.9"/></svg></div>
<div class="badge" style="left:412.8px;top:439.10px;width:35.5px;height:8.9px;background:#d5f5e3;color:#0b6b3f"><svg width="5.4" height="5.4" viewBox="0 0 5 5"><circle cx="2.5" cy="2.5" r="2.5" fill="#0b6b3f"/><path d="M1.3 2.6L2.2 3.5L3.8 1.7" fill="none" stroke="#d5f5e3" stroke-width="0.8"/></svg><span style="margin-left:2px">Vérifiée</span></div>
<div class="t" style="left:488.50px;top:440.00px;font-size:6.30px;line-height:7.00px;font-weight:400;color:#1f2937;">23 octobre 2025</div>
<svg class="b" style="left:622.90px;top:439.85px;" width="7.30" height="6.00" viewBox="0 0 7.3 6"><path d="M0.2 3 C1.2 0.6 2.4 0 3.65 0 C4.9 0 6.1 0.6 7.1 3 C6.1 5.4 4.9 6 3.65 6 C2.4 6 1.2 5.4 0.2 3Z" fill="#1f2937"/><ellipse cx="3.65" cy="3" rx="2.3" ry="1.85" fill="#fff"/><circle cx="3.65" cy="3" r="1.1" fill="#1f2937"/></svg>
<svg class="b" style="left:638.80px;top:439.75px;" width="6.40" height="6.40" viewBox="0 0 6.4 6.4"><path d="M0 6.4 L0.5 4.4 L4.6 0.3 Q5.1 -0.1 5.6 0.4 L6 0.8 Q6.5 1.3 6.1 1.8 L2 5.9Z" fill="#1f2937"/><path d="M3.9 1 L5.4 2.5" stroke="#fff" stroke-width="0.35"/></svg>
<svg class="b" style="left:654.10px;top:439.85px;" width="5.20" height="6.30" viewBox="0 0 5.2 6.3"><rect x="0" y="0.5" width="5.2" height="1" rx="0.3" fill="#1f2937"/><rect x="1.7" y="0" width="1.8" height="0.8" rx="0.3" fill="#1f2937"/><path d="M0.4 1.8H4.8L4.5 5.7Q4.45 6.3 3.9 6.3H1.3Q0.75 6.3 0.7 5.7Z" fill="#1f2937"/><g stroke="#6b7280" stroke-width="0.35"><path d="M1.75 2.6V5.5"/><path d="M3.45 2.6V5.5"/></g></svg>
<div class="t" style="left:132.90px;top:456.00px;font-size:6.30px;line-height:7.00px;font-weight:400;color:#1f2937;">FC Ecublens</div>
<div class="t" style="left:226px;top:456px;font-size:6.38px;line-height:7px;color:#2563eb"><span style="letter-spacing:-0.029px">Ecublens</span><svg width="4.6" height="6" viewBox="0 0 4.6 6" style="margin-left:3.8px"><path d="M2.3 6 C1 4.4 0 3.4 0 2.3 A2.3 2.3 0 0 1 4.6 2.3 C4.6 3.4 3.6 4.4 2.3 6Z" fill="#e5364f"/><circle cx="2.3" cy="2.2" r="0.85" fill="#fff"/></svg><svg width="6.2" height="6.2" viewBox="0 0 6 6" style="margin-left:3.7px"><circle cx="3" cy="3" r="3" fill="#e3404d"/><path d="M1.9 1.9L4.1 4.1M4.1 1.9L1.9 4.1" stroke="#fff" stroke-width="0.9"/></svg></div>
<div class="badge" style="left:412.8px;top:455.10px;width:44.2px;height:8.9px;background:#fde2e3;color:#a3162a"><svg width="5.4" height="5.4" viewBox="0 0 5 5"><circle cx="2.5" cy="2.5" r="2.5" fill="#a3162a"/><path d="M1.6 1.6L3.4 3.4M3.4 1.6L1.6 3.4" stroke="#fde2e3" stroke-width="0.8"/></svg><span style="margin-left:2px">Manquante</span></div>
<div class="t" style="left:488.50px;top:456.00px;font-size:6.30px;line-height:7.00px;font-weight:400;color:#1f2937;">23 mars 2026</div>
<svg class="b" style="left:622.90px;top:456.15px;" width="7.30" height="6.00" viewBox="0 0 7.3 6"><path d="M0.2 3 C1.2 0.6 2.4 0 3.65 0 C4.9 0 6.1 0.6 7.1 3 C6.1 5.4 4.9 6 3.65 6 C2.4 6 1.2 5.4 0.2 3Z" fill="#1f2937"/><ellipse cx="3.65" cy="3" rx="2.3" ry="1.85" fill="#fff"/><circle cx="3.65" cy="3" r="1.1" fill="#1f2937"/></svg>
<svg class="b" style="left:638.80px;top:456.05px;" width="6.40" height="6.40" viewBox="0 0 6.4 6.4"><path d="M0 6.4 L0.5 4.4 L4.6 0.3 Q5.1 -0.1 5.6 0.4 L6 0.8 Q6.5 1.3 6.1 1.8 L2 5.9Z" fill="#1f2937"/><path d="M3.9 1 L5.4 2.5" stroke="#fff" stroke-width="0.35"/></svg>
<svg class="b" style="left:654.10px;top:456.15px;" width="5.20" height="6.30" viewBox="0 0 5.2 6.3"><rect x="0" y="0.5" width="5.2" height="1" rx="0.3" fill="#1f2937"/><rect x="1.7" y="0" width="1.8" height="0.8" rx="0.3" fill="#1f2937"/><path d="M0.4 1.8H4.8L4.5 5.7Q4.45 6.3 3.9 6.3H1.3Q0.75 6.3 0.7 5.7Z" fill="#1f2937"/><g stroke="#6b7280" stroke-width="0.35"><path d="M1.75 2.6V5.5"/><path d="M3.45 2.6V5.5"/></g></svg>
<div class="t" style="left:132.90px;top:473.00px;font-size:6.30px;line-height:7.00px;font-weight:400;color:#1f2937;">FC Epalinges</div>
<div class="t" style="left:226px;top:473px;font-size:6.38px;line-height:7px;color:#2563eb"><span style="letter-spacing:-0.018px">1066 Épalinges</span><svg width="4.6" height="6" viewBox="0 0 4.6 6" style="margin-left:3.8px"><path d="M2.3 6 C1 4.4 0 3.4 0 2.3 A2.3 2.3 0 0 1 4.6 2.3 C4.6 3.4 3.6 4.4 2.3 6Z" fill="#e5364f"/><circle cx="2.3" cy="2.2" r="0.85" fill="#fff"/></svg><svg width="6.2" height="6.2" viewBox="0 0 6 6" style="margin-left:3.7px"><circle cx="3" cy="3" r="3" fill="#e3404d"/><path d="M1.9 1.9L4.1 4.1M4.1 1.9L1.9 4.1" stroke="#fff" stroke-width="0.9"/></svg></div>
<div class="badge" style="left:412.8px;top:472.10px;width:44.2px;height:8.9px;background:#fde2e3;color:#a3162a"><svg width="5.4" height="5.4" viewBox="0 0 5 5"><circle cx="2.5" cy="2.5" r="2.5" fill="#a3162a"/><path d="M1.6 1.6L3.4 3.4M3.4 1.6L1.6 3.4" stroke="#fde2e3" stroke-width="0.8"/></svg><span style="margin-left:2px">Manquante</span></div>
<div class="t" style="left:488.50px;top:473.00px;font-size:6.30px;line-height:7.00px;font-weight:400;color:#1f2937;">1 novembre 2025</div>
<svg class="b" style="left:622.90px;top:472.45px;" width="7.30" height="6.00" viewBox="0 0 7.3 6"><path d="M0.2 3 C1.2 0.6 2.4 0 3.65 0 C4.9 0 6.1 0.6 7.1 3 C6.1 5.4 4.9 6 3.65 6 C2.4 6 1.2 5.4 0.2 3Z" fill="#1f2937"/><ellipse cx="3.65" cy="3" rx="2.3" ry="1.85" fill="#fff"/><circle cx="3.65" cy="3" r="1.1" fill="#1f2937"/></svg>
<svg class="b" style="left:638.80px;top:472.35px;" width="6.40" height="6.40" viewBox="0 0 6.4 6.4"><path d="M0 6.4 L0.5 4.4 L4.6 0.3 Q5.1 -0.1 5.6 0.4 L6 0.8 Q6.5 1.3 6.1 1.8 L2 5.9Z" fill="#1f2937"/><path d="M3.9 1 L5.4 2.5" stroke="#fff" stroke-width="0.35"/></svg>
<svg class="b" style="left:654.10px;top:472.45px;" width="5.20" height="6.30" viewBox="0 0 5.2 6.3"><rect x="0" y="0.5" width="5.2" height="1" rx="0.3" fill="#1f2937"/><rect x="1.7" y="0" width="1.8" height="0.8" rx="0.3" fill="#1f2937"/><path d="M0.4 1.8H4.8L4.5 5.7Q4.45 6.3 3.9 6.3H1.3Q0.75 6.3 0.7 5.7Z" fill="#1f2937"/><g stroke="#6b7280" stroke-width="0.35"><path d="M1.75 2.6V5.5"/><path d="M3.45 2.6V5.5"/></g></svg>
<div class="t" style="left:132.90px;top:489.00px;font-size:6.30px;line-height:7.00px;font-weight:400;color:#1f2937;">FC Ependes</div>
<div class="t" style="left:226.00px;top:489.00px;font-size:6.30px;line-height:7.00px;font-weight:400;color:#374151;">-</div>
<div class="badge" style="left:412.8px;top:488.10px;width:44.2px;height:8.9px;background:#fde2e3;color:#a3162a"><svg width="5.4" height="5.4" viewBox="0 0 5 5"><circle cx="2.5" cy="2.5" r="2.5" fill="#a3162a"/><path d="M1.6 1.6L3.4 3.4M3.4 1.6L1.6 3.4" stroke="#fde2e3" stroke-width="0.8"/></svg><span style="margin-left:2px">Manquante</span></div>
<div class="t" style="left:488.50px;top:489.00px;font-size:6.30px;line-height:7.00px;font-weight:400;color:#1f2937;">12 avril 2026</div>
<svg class="b" style="left:622.90px;top:488.75px;" width="7.30" height="6.00" viewBox="0 0 7.3 6"><path d="M0.2 3 C1.2 0.6 2.4 0 3.65 0 C4.9 0 6.1 0.6 7.1 3 C6.1 5.4 4.9 6 3.65 6 C2.4 6 1.2 5.4 0.2 3Z" fill="#1f2937"/><ellipse cx="3.65" cy="3" rx="2.3" ry="1.85" fill="#fff"/><circle cx="3.65" cy="3" r="1.1" fill="#1f2937"/></svg>
<svg class="b" style="left:638.80px;top:488.65px;" width="6.40" height="6.40" viewBox="0 0 6.4 6.4"><path d="M0 6.4 L0.5 4.4 L4.6 0.3 Q5.1 -0.1 5.6 0.4 L6 0.8 Q6.5 1.3 6.1 1.8 L2 5.9Z" fill="#1f2937"/><path d="M3.9 1 L5.4 2.5" stroke="#fff" stroke-width="0.35"/></svg>
<svg class="b" style="left:654.10px;top:488.75px;" width="5.20" height="6.30" viewBox="0 0 5.2 6.3"><rect x="0" y="0.5" width="5.2" height="1" rx="0.3" fill="#1f2937"/><rect x="1.7" y="0" width="1.8" height="0.8" rx="0.3" fill="#1f2937"/><path d="M0.4 1.8H4.8L4.5 5.7Q4.45 6.3 3.9 6.3H1.3Q0.75 6.3 0.7 5.7Z" fill="#1f2937"/><g stroke="#6b7280" stroke-width="0.35"><path d="M1.75 2.6V5.5"/><path d="M3.45 2.6V5.5"/></g></svg>
<div class="t" style="left:132.90px;top:505.00px;font-size:6.30px;line-height:7.00px;font-weight:400;color:#1f2937;">FC Espagnol Lausanne</div>
<div class="t" style="left:226px;top:505px;font-size:6.38px;line-height:7px;color:#2563eb"><span style="letter-spacing:0.011px">Chavannes-près-Renens</span><svg width="4.6" height="6" viewBox="0 0 4.6 6" style="margin-left:3.8px"><path d="M2.3 6 C1 4.4 0 3.4 0 2.3 A2.3 2.3 0 0 1 4.6 2.3 C4.6 3.4 3.6 4.4 2.3 6Z" fill="#e5364f"/><circle cx="2.3" cy="2.2" r="0.85" fill="#fff"/></svg><svg width="6.2" height="6.2" viewBox="0 0 6 6" style="margin-left:3.7px"><circle cx="3" cy="3" r="3" fill="#e3404d"/><path d="M1.9 1.9L4.1 4.1M4.1 1.9L1.9 4.1" stroke="#fff" stroke-width="0.9"/></svg></div>
<div class="badge" style="left:412.8px;top:504.10px;width:44.2px;height:8.9px;background:#fde2e3;color:#a3162a"><svg width="5.4" height="5.4" viewBox="0 0 5 5"><circle cx="2.5" cy="2.5" r="2.5" fill="#a3162a"/><path d="M1.6 1.6L3.4 3.4M3.4 1.6L1.6 3.4" stroke="#fde2e3" stroke-width="0.8"/></svg><span style="margin-left:2px">Manquante</span></div>
<div class="t" style="left:488.50px;top:505.00px;font-size:6.30px;line-height:7.00px;font-weight:400;color:#1f2937;">1 novembre 2025</div>
<svg class="b" style="left:622.90px;top:505.05px;" width="7.30" height="6.00" viewBox="0 0 7.3 6"><path d="M0.2 3 C1.2 0.6 2.4 0 3.65 0 C4.9 0 6.1 0.6 7.1 3 C6.1 5.4 4.9 6 3.65 6 C2.4 6 1.2 5.4 0.2 3Z" fill="#1f2937"/><ellipse cx="3.65" cy="3" rx="2.3" ry="1.85" fill="#fff"/><circle cx="3.65" cy="3" r="1.1" fill="#1f2937"/></svg>
<svg class="b" style="left:638.80px;top:504.95px;" width="6.40" height="6.40" viewBox="0 0 6.4 6.4"><path d="M0 6.4 L0.5 4.4 L4.6 0.3 Q5.1 -0.1 5.6 0.4 L6 0.8 Q6.5 1.3 6.1 1.8 L2 5.9Z" fill="#1f2937"/><path d="M3.9 1 L5.4 2.5" stroke="#fff" stroke-width="0.35"/></svg>
<svg class="b" style="left:654.10px;top:505.05px;" width="5.20" height="6.30" viewBox="0 0 5.2 6.3"><rect x="0" y="0.5" width="5.2" height="1" rx="0.3" fill="#1f2937"/><rect x="1.7" y="0" width="1.8" height="0.8" rx="0.3" fill="#1f2937"/><path d="M0.4 1.8H4.8L4.5 5.7Q4.45 6.3 3.9 6.3H1.3Q0.75 6.3 0.7 5.7Z" fill="#1f2937"/><g stroke="#6b7280" stroke-width="0.35"><path d="M1.75 2.6V5.5"/><path d="M3.45 2.6V5.5"/></g></svg>
<div class="t" style="left:132.90px;top:521.00px;font-size:6.30px;line-height:7.00px;font-weight:400;color:#1f2937;">FC Etoile Bonvillars</div>
<div class="t" style="left:226.00px;top:521.00px;font-size:6.30px;line-height:7.00px;font-weight:400;color:#374151;">-</div>
<div class="badge" style="left:412.8px;top:520.10px;width:44.2px;height:8.9px;background:#fde2e3;color:#a3162a"><svg width="5.4" height="5.4" viewBox="0 0 5 5"><circle cx="2.5" cy="2.5" r="2.5" fill="#a3162a"/><path d="M1.6 1.6L3.4 3.4M3.4 1.6L1.6 3.4" stroke="#fde2e3" stroke-width="0.8"/></svg><span style="margin-left:2px">Manquante</span></div>
<div class="t" style="left:488.50px;top:521.00px;font-size:6.30px;line-height:7.00px;font-weight:400;color:#1f2937;">16 octobre 2025</div>
<svg class="b" style="left:622.90px;top:521.35px;" width="7.30" height="6.00" viewBox="0 0 7.3 6"><path d="M0.2 3 C1.2 0.6 2.4 0 3.65 0 C4.9 0 6.1 0.6 7.1 3 C6.1 5.4 4.9 6 3.65 6 C2.4 6 1.2 5.4 0.2 3Z" fill="#1f2937"/><ellipse cx="3.65" cy="3" rx="2.3" ry="1.85" fill="#fff"/><circle cx="3.65" cy="3" r="1.1" fill="#1f2937"/></svg>
<svg class="b" style="left:638.80px;top:521.25px;" width="6.40" height="6.40" viewBox="0 0 6.4 6.4"><path d="M0 6.4 L0.5 4.4 L4.6 0.3 Q5.1 -0.1 5.6 0.4 L6 0.8 Q6.5 1.3 6.1 1.8 L2 5.9Z" fill="#1f2937"/><path d="M3.9 1 L5.4 2.5" stroke="#fff" stroke-width="0.35"/></svg>
<svg class="b" style="left:654.10px;top:521.35px;" width="5.20" height="6.30" viewBox="0 0 5.2 6.3"><rect x="0" y="0.5" width="5.2" height="1" rx="0.3" fill="#1f2937"/><rect x="1.7" y="0" width="1.8" height="0.8" rx="0.3" fill="#1f2937"/><path d="M0.4 1.8H4.8L4.5 5.7Q4.45 6.3 3.9 6.3H1.3Q0.75 6.3 0.7 5.7Z" fill="#1f2937"/><g stroke="#6b7280" stroke-width="0.35"><path d="M1.75 2.6V5.5"/><path d="M3.45 2.6V5.5"/></g></svg>
<div class="t" style="left:132.90px;top:538.00px;font-size:6.30px;line-height:7.00px;font-weight:400;color:#1f2937;">FC Etoile-Broye</div>
<div class="t" style="left:226px;top:538px;font-size:6.38px;line-height:7px;color:#2563eb"><span style="letter-spacing:-0.010px">Lucens</span><svg width="4.6" height="6" viewBox="0 0 4.6 6" style="margin-left:3.8px"><path d="M2.3 6 C1 4.4 0 3.4 0 2.3 A2.3 2.3 0 0 1 4.6 2.3 C4.6 3.4 3.6 4.4 2.3 6Z" fill="#e5364f"/><circle cx="2.3" cy="2.2" r="0.85" fill="#fff"/></svg><svg width="6.2" height="6.2" viewBox="0 0 6 6" style="margin-left:3.7px"><circle cx="3" cy="3" r="3" fill="#e3404d"/><path d="M1.9 1.9L4.1 4.1M4.1 1.9L1.9 4.1" stroke="#fff" stroke-width="0.9"/></svg></div>
<div class="badge" style="left:412.8px;top:537.10px;width:44.2px;height:8.9px;background:#fde2e3;color:#a3162a"><svg width="5.4" height="5.4" viewBox="0 0 5 5"><circle cx="2.5" cy="2.5" r="2.5" fill="#a3162a"/><path d="M1.6 1.6L3.4 3.4M3.4 1.6L1.6 3.4" stroke="#fde2e3" stroke-width="0.8"/></svg><span style="margin-left:2px">Manquante</span></div>
<div class="t" style="left:488.50px;top:538.00px;font-size:6.30px;line-height:7.00px;font-weight:400;color:#1f2937;">9 avril 2026</div>
<svg class="b" style="left:622.90px;top:537.65px;" width="7.30" height="6.00" viewBox="0 0 7.3 6"><path d="M0.2 3 C1.2 0.6 2.4 0 3.65 0 C4.9 0 6.1 0.6 7.1 3 C6.1 5.4 4.9 6 3.65 6 C2.4 6 1.2 5.4 0.2 3Z" fill="#1f2937"/><ellipse cx="3.65" cy="3" rx="2.3" ry="1.85" fill="#fff"/><circle cx="3.65" cy="3" r="1.1" fill="#1f2937"/></svg>
<svg class="b" style="left:638.80px;top:537.55px;" width="6.40" height="6.40" viewBox="0 0 6.4 6.4"><path d="M0 6.4 L0.5 4.4 L4.6 0.3 Q5.1 -0.1 5.6 0.4 L6 0.8 Q6.5 1.3 6.1 1.8 L2 5.9Z" fill="#1f2937"/><path d="M3.9 1 L5.4 2.5" stroke="#fff" stroke-width="0.35"/></svg>
<svg class="b" style="left:654.10px;top:537.65px;" width="5.20" height="6.30" viewBox="0 0 5.2 6.3"><rect x="0" y="0.5" width="5.2" height="1" rx="0.3" fill="#1f2937"/><rect x="1.7" y="0" width="1.8" height="0.8" rx="0.3" fill="#1f2937"/><path d="M0.4 1.8H4.8L4.5 5.7Q4.45 6.3 3.9 6.3H1.3Q0.75 6.3 0.7 5.7Z" fill="#1f2937"/><g stroke="#6b7280" stroke-width="0.35"><path d="M1.75 2.6V5.5"/><path d="M3.45 2.6V5.5"/></g></svg>
<div class="t" style="left:132.90px;top:554.00px;font-size:6.30px;line-height:7.00px;font-weight:400;color:#1f2937;">FC Etoy</div>
<div class="t" style="left:226.00px;top:554.00px;font-size:6.30px;line-height:7.00px;font-weight:400;color:#374151;">-</div>
<div class="badge" style="left:412.8px;top:553.10px;width:44.2px;height:8.9px;background:#fde2e3;color:#a3162a"><svg width="5.4" height="5.4" viewBox="0 0 5 5"><circle cx="2.5" cy="2.5" r="2.5" fill="#a3162a"/><path d="M1.6 1.6L3.4 3.4M3.4 1.6L1.6 3.4" stroke="#fde2e3" stroke-width="0.8"/></svg><span style="margin-left:2px">Manquante</span></div>
<div class="t" style="left:488.50px;top:554.00px;font-size:6.30px;line-height:7.00px;font-weight:400;color:#1f2937;">12 octobre 2025</div>
<svg class="b" style="left:622.90px;top:553.95px;" width="7.30" height="6.00" viewBox="0 0 7.3 6"><path d="M0.2 3 C1.2 0.6 2.4 0 3.65 0 C4.9 0 6.1 0.6 7.1 3 C6.1 5.4 4.9 6 3.65 6 C2.4 6 1.2 5.4 0.2 3Z" fill="#1f2937"/><ellipse cx="3.65" cy="3" rx="2.3" ry="1.85" fill="#fff"/><circle cx="3.65" cy="3" r="1.1" fill="#1f2937"/></svg>
<svg class="b" style="left:638.80px;top:553.85px;" width="6.40" height="6.40" viewBox="0 0 6.4 6.4"><path d="M0 6.4 L0.5 4.4 L4.6 0.3 Q5.1 -0.1 5.6 0.4 L6 0.8 Q6.5 1.3 6.1 1.8 L2 5.9Z" fill="#1f2937"/><path d="M3.9 1 L5.4 2.5" stroke="#fff" stroke-width="0.35"/></svg>
<svg class="b" style="left:654.10px;top:553.95px;" width="5.20" height="6.30" viewBox="0 0 5.2 6.3"><rect x="0" y="0.5" width="5.2" height="1" rx="0.3" fill="#1f2937"/><rect x="1.7" y="0" width="1.8" height="0.8" rx="0.3" fill="#1f2937"/><path d="M0.4 1.8H4.8L4.5 5.7Q4.45 6.3 3.9 6.3H1.3Q0.75 6.3 0.7 5.7Z" fill="#1f2937"/><g stroke="#6b7280" stroke-width="0.35"><path d="M1.75 2.6V5.5"/><path d="M3.45 2.6V5.5"/></g></svg>
<svg class="b" style="left:294.80px;top:286.00px;" width="5.80" height="9.40" viewBox="0 0 5.8 9.4"><path d="M0.5 0.5 L0.5 7.2 L2 5.8 L3.1 8.5 L4.2 8 L3.1 5.4 L5.2 5.4Z" fill="#000" stroke="#fff" stroke-width="0.5"/></svg>
<div class="b" style="left:794.00px;top:0.00px;width:6.00px;height:569.00px;background:#2b2c2c"></div>
<div class="b" style="left:794.90px;top:0.50px;width:4.10px;height:419.50px;background:#6b6b6b;border-radius:2px"></div>
</body></html>
